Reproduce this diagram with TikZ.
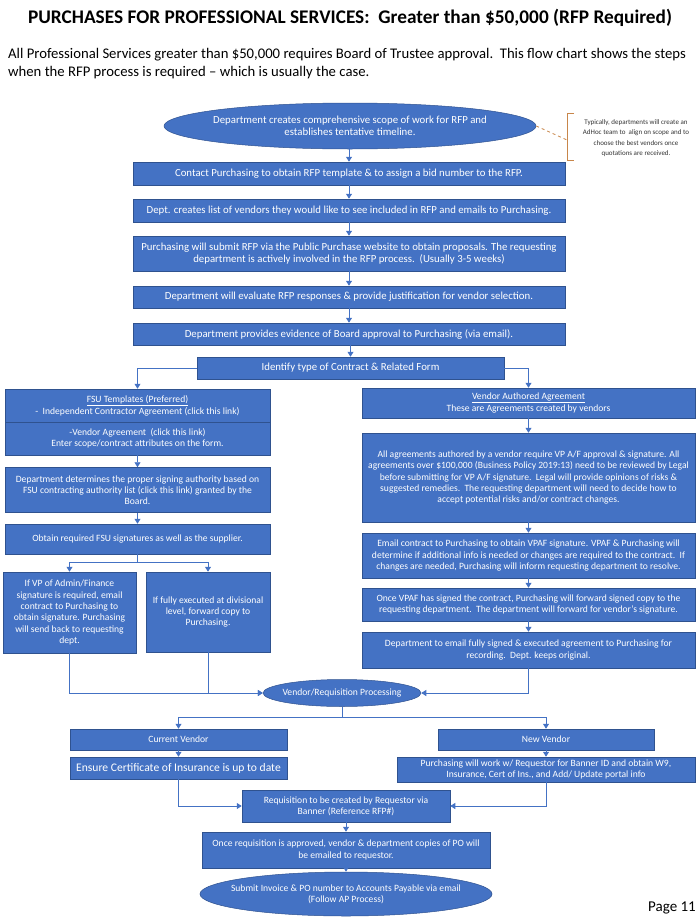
\documentclass[tikz,border=0pt]{standalone}
\usepackage{fontspec}
\setmainfont{Carlito}
\usetikzlibrary{arrows.meta,shapes.geometric,calc}
\definecolor{blu}{HTML}{4472C4}
\definecolor{bord}{HTML}{2F528F}
\definecolor{orng}{HTML}{C8864A}
\begin{document}
\begin{tikzpicture}[x=1pt,y=-1pt,
  box/.style={draw=bord, fill=blu, text=white, align=center, inner sep=1pt, line width=0.5pt, font=\fontsize{9.6}{11.3}\selectfont},
  big/.style={font=\fontsize{10.8}{12.5}\selectfont},
  oval/.style={ellipse, draw=bord, fill=blu, inner sep=0pt, line width=0.5pt},
  otext/.style={text=white, align=center, inner sep=0pt, font=\fontsize{9.6}{11.3}\selectfont},
  sz/.style 2 args={minimum width=#1pt, minimum height=#2pt},
  conn/.style={draw=blu, line width=0.9pt, -{Triangle[width=6pt,length=5pt]}},
  ln/.style={draw=blu, line width=0.9pt}]
\useasboundingbox (0,0) rectangle (700,924);

\node[font=\bfseries\fontsize{19.3}{22}\selectfont] (title) at (350,18) {PURCHASES FOR PROFESSIONAL SERVICES:\ \ Greater than \$50,000 (RFP Required)};
\node[anchor=west, align=left, font=\fontsize{14.7}{18}\selectfont, inner sep=0pt] (intro) at (8,64) {All Professional Services greater than \$50,000 requires Board of Trustee approval.\ \ This flow chart shows the steps\\when the RFP process is required -- which is usually the case.};
\node[font=\fontsize{15}{17}\selectfont] (page) at (672,908) {Page 11};

% top column
\node[oval, sz={372}{46}] (e1) at (350,126) {};
\node[otext, big] (e1t) at (e1.center) {Department creates comprehensive scope of work for RFP and\\establishes tentative timeline.};
\node[box, big, sz={432}{23}] (b1) at (349,173.5) {Contact Purchasing to obtain RFP template \& to assign a bid number to the RFP.};
\node[box, big, sz={432}{23}] (b2) at (349,210.5) {Dept. creates list of vendors they would like to see included in RFP and emails to Purchasing.};
\node[box, big, sz={432}{35}] (b3) at (349,253.5) {Purchasing will submit RFP via the Public Purchase website to obtain proposals. The requesting\\department is actively involved in the RFP process.\ \ (Usually 3-5 weeks)};
\node[box, big, sz={432}{22}] (b4) at (349,297) {Department will evaluate RFP responses \& provide justification for vendor selection.};
\node[box, big, sz={432}{22}] (b5) at (349,334) {Department provides evidence of Board approval to Purchasing (via email).};
\node[box, big, sz={307}{22}] (id) at (350.5,368) {Identify type of Contract \& Related Form};

% note
\node[align=center, font=\fontsize{7}{10.5}\selectfont, text=black!80] (note) at (636,138) {Typically, departments will create an\\AdHoc team to\ \ align on scope and to\\choose the best vendors once\\quotations are received.};
\coordinate (brk) at (567,140);
\draw[orng, line width=0.8pt] (574,113) -- (567,113) -- (567,160) -- (574,160);
\draw[orng, dashed, line width=0.8pt] (e1.east) -- (brk);

% left column
\node[box, sz={265}{33}] (f1) at (137.5,405.5) {\underline{FSU Templates (Preferred)}\\[0.5pt]-\ \ Independent Contractor Agreement (click this link)};
\node[box, sz={265}{33}] (f2) at (137.5,438.5) {-Vendor Agreement\ \ (click this link)\\Enter scope/contract attributes on the form.};
\node[box, sz={265}{45}] (dd) at (137.5,490) {Department determines the proper signing authority based on\\FSU contracting authority list (click this link) granted by the\\Board.};
\node[box, sz={265}{30}] (ob) at (137.5,539) {Obtain required FSU signatures as well as the supplier.};
\node[box, sz={133}{81}] (vp) at (69.5,612.5) {If VP of Admin/Finance\\signature is required, email\\contract to Purchasing to\\obtain signature. Purchasing\\will send back to requesting\\dept.};
\node[box, sz={124}{80}] (fx) at (208,612) {If fully executed at divisional\\level, forward copy to\\Purchasing.};

% right column
\node[box, sz={333}{30}] (va) at (528.5,403) {\underline{Vendor Authored Agreement}\\[0.5pt]These are Agreements created by vendors};
\node[box, sz={333}{89}] (al) at (528.5,477.5) {All agreements authored by a vendor require VP A/F approval \& signature. All\\agreements over \$100,000 (Business Policy 2019:13) need to be reviewed by Legal\\before submitting for VP A/F signature.\ \ Legal will provide opinions of risks \&\\suggested remedies.\ \ The requesting department will need to decide how to\\accept potential risks and/or contract changes.};
\node[box, sz={333}{45}] (em) at (528.5,555.5) {Email contract to Purchasing to obtain VPAF signature. VPAF \& Purchasing will\\determine if additional info is needed or changes are required to the contract.\ \ If\\changes are needed, Purchasing will inform requesting department to resolve.};
\node[box, sz={333}{33}] (ov) at (528.5,604.5) {Once VPAF has signed the contract, Purchasing will forward signed copy to the\\requesting department.\ \ The department will forward for vendor's signature.};
\node[box, sz={333}{36}] (de) at (528.5,650) {Department to email fully signed \& executed agreement to Purchasing for\\recording.\ \ Dept. keeps original.};

% bottom
\node[oval, sz={158}{27}] (vr) at (342,693) {};
\node[otext] (vrt) at (vr.center) {Vendor/Requisition Processing};
\node[box, sz={217}{21}] (cv) at (178.5,739.5) {Current Vendor};
\node[box, sz={216}{21}] (nv) at (546,739.5) {New Vendor};
\node[box, sz={217}{22}, font=\fontsize{11.6}{13}\selectfont] (ec) at (178.5,768) {Ensure Certificate of Insurance is up to date};
\node[box, sz={298}{25}] (pw) at (546,769.5) {Purchasing will work w/ Requestor for Banner ID and obtain W9,\\Insurance, Cert of Ins., and Add/ Update portal info};
\node[box, sz={208}{32}] (rq) at (346,806) {Requisition to be created by Requestor via\\Banner (Reference RFP\#)};
\node[box, sz={288}{36}] (or) at (346,850) {Once requisition is approved, vendor \& department copies of PO will\\be emailed to requestor.};
\node[oval, sz={292}{44}] (sb) at (346,894) {};
\node[otext] (sbt) at (sb.center) {Submit Invoice \& PO number to Accounts Payable via email\\(Follow AP Process)};

% connectors
\draw[conn] (b1.north |- e1.south) -- (b1.north);
\draw[conn] (b1) -- (b2);
\draw[conn] (b2) -- (b3);
\draw[conn] (b3) -- (b4);
\draw[conn] (b4) -- (b5);
\draw[conn] (id.north |- b5.south) -- (id.north);
\draw[conn] (id.west) -| (f1.north);
\draw[conn] (id.east) -| (va.north);
\draw[conn] (f2) -- (dd);
\draw[conn] (dd) -- (ob);
\draw[ln] (ob.south) -- ++(0,8) coordinate (split);
\draw[conn] (split) -| (vp.north);
\draw[conn] (split) -| (fx.north);
\draw[conn] (va) -- (al);
\draw[conn] (al) -- (em);
\draw[conn] (em) -- (ov);
\draw[conn] (ov) -- (de);
\draw[conn] (vp.south) |- (vr.west);
\draw[conn] (fx.south) |- (vr.west);
\draw[conn] (de.south) |- (vr.east);
\draw[ln] (vr.south) -- ++(0,11) coordinate (split2);
\draw[conn] (split2) -| (cv.north);
\draw[conn] (split2) -| (nv.north);
\draw[conn] (cv) -- (ec);
\draw[conn] (nv) -- (pw);
\draw[conn] (ec.south) |- (rq.west);
\draw[conn] (pw.south) |- (rq.east);
\draw[conn] (rq) -- (or);
\draw[conn] (or) -- (sb);
\end{tikzpicture}
\end{document}
